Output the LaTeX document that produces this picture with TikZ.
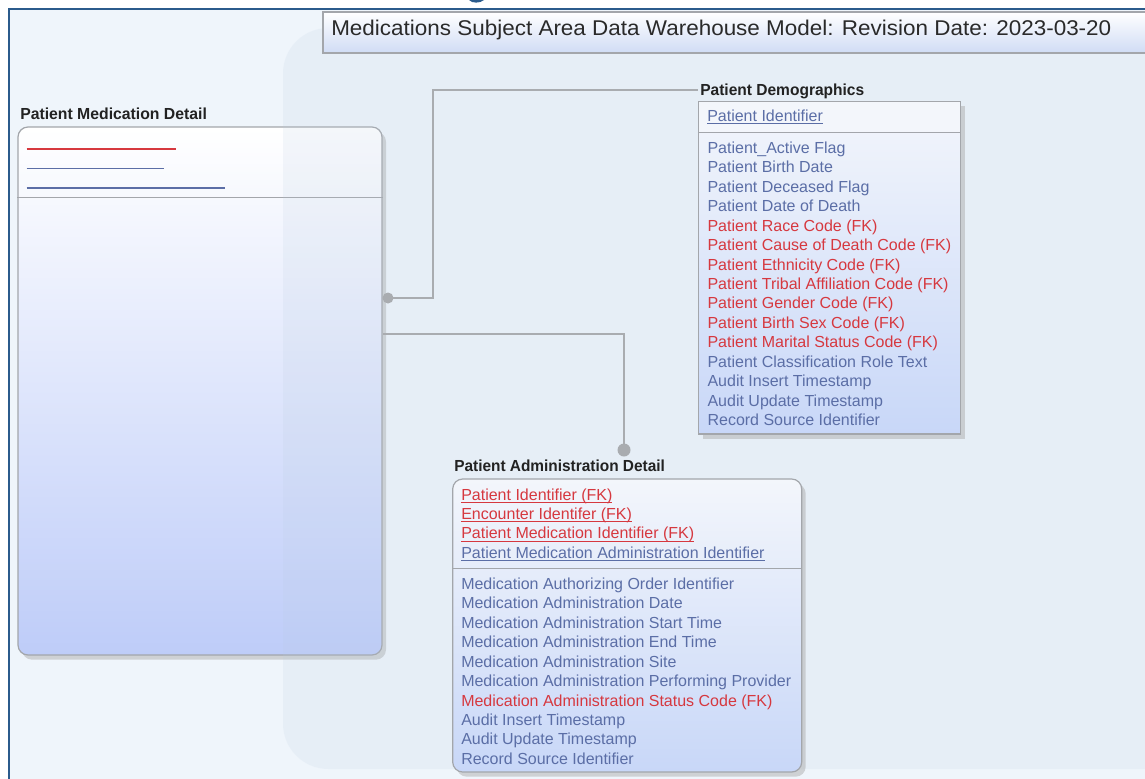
\documentclass[tikz,border=0pt]{standalone}
\usepackage{fontspec}
\usepackage{graphicx}
\setmainfont{Liberation Sans}
\usetikzlibrary{fit,shadows}
\definecolor{bgc}{HTML}{EFF5FB}
\definecolor{regc}{HTML}{B9CCE0}
\definecolor{framec}{HTML}{2B5B8C}
\definecolor{itemblue}{HTML}{5B6EA6}
\definecolor{itemred}{HTML}{D6383F}
\definecolor{hdrc}{HTML}{222222}
\definecolor{boxline}{HTML}{A3A6AB}
\definecolor{boxbot}{HTML}{C8D7F8}
\definecolor{boxtop}{HTML}{F3F6FB}
\definecolor{connc}{HTML}{A9ACB0}
\definecolor{titlebot}{HTML}{D0DCF5}
\definecolor{titletxt}{HTML}{2A2A2A}
\tikzset{
  item/.style={anchor=base west, inner sep=0pt, font=\fontsize{12}{14}\selectfont},
  hdr/.style={anchor=base west, inner sep=0pt, text=hdrc, font=\fontsize{12}{14}\selectfont\bfseries},
  entbox/.style={inner sep=0pt, draw=boxline, line width=0.9pt, top color=boxtop, bottom color=boxbot,
    drop shadow={shadow xshift=3pt, shadow yshift=-3.5pt, fill=gray!70, opacity=0.45}},
  sepline/.style={draw=boxline, line width=0.9pt},
  conn/.style={draw=connc, line width=1.5pt},
  keyline/.style={line width=1pt},
}
\newcommand\ulk[1]{\underline{\smash{#1}}}
\newcommand\hdrtext[2]{\resizebox{#1}{\height}{#2}}
\begin{document}
\begin{tikzpicture}[x=0.75pt,y=-0.75pt]
\useasboundingbox (0,0) rectangle (1145,778);
\clip (0,0) rectangle (1145,778);
% background and frame
\fill[white] (0,0) rectangle (1145,778);
\fill[bgc] (9,9) rectangle (1160,790);
\draw[framec, line width=1.6pt] (9,790) -- (9,9) -- (1160,9);
\fill[framec] (469,0) .. controls (472,3.5) and (480,3.5) .. (484,0) -- cycle;

% Patient Medication Detail
\node[hdr] (pmdh) at (20,119) {\hdrtext{140pt}{Patient Medication Detail}};
\node[entbox, rounded corners=7.5pt, top color=white, bottom color=boxbot!95!blue, fit={(18,127)(382,655)}] (pmd) {};
\draw[sepline] (pmd.west |- 0,197.5) -- (pmd.east |- 0,197.5);
\draw[keyline, itemred] (26.5,149) -- (175.5,149);
\draw[keyline, itemblue] (26.5,168.7) -- (163.5,168.7);
\draw[keyline, itemblue] (26.5,188) -- (224.5,188);

% shaded region overlay
\fill[regc, opacity=0.15, rounded corners=34pt] (283,28) rectangle (1200,769);

% title box
\node[inner sep=0pt, draw=boxline, line width=0.9pt, top color=white, bottom color=titlebot, fit={(323,12)(1170,53)}] (titlebox) {};
\node[anchor=base west, inner sep=0pt, text=titletxt] (titletext) at (331,36)
  {\resizebox{585pt}{\height}{\fontsize{16}{18}\selectfont Medications Subject Area Data Warehouse Model: Revision Date: 2023-03-20}};

% Patient Demographics
\node[hdr] (pdh) at (700,95) {\hdrtext{123pt}{Patient Demographics}};
\node[entbox, fit={(698.5,101.5)(960.5,434)}] (pd) {};
\fill[boxtop] (699,102) rectangle (960,132);
\draw[sepline] (pd.west |- 0,132.3) -- (pd.east |- 0,132.3);
\node[item, text=itemblue] (pdk) at (707,121.7) {\ulk{Patient Identifier}};
\foreach \c/\t [count=\i from 0] in {
  itemblue/Patient\_Active Flag,
  itemblue/Patient Birth Date,
  itemblue/Patient Deceased Flag,
  itemblue/Patient Date of Death,
  itemred/Patient Race Code (FK),
  itemred/Patient Cause of Death Code (FK),
  itemred/Patient Ethnicity Code (FK),
  itemred/Patient Tribal Affiliation Code (FK),
  itemred/Patient Gender Code (FK),
  itemred/Patient Birth Sex Code (FK),
  itemred/Patient Marital Status Code (FK),
  itemblue/Patient Classification Role Text,
  itemblue/Audit Insert Timestamp,
  itemblue/Audit Update Timestamp,
  itemblue/Record Source Identifier}
  \node[item, text=\c] (pd\i) at (707.3,{153.3+19.45*\i}) {\t};

% Patient Administration Detail
\node[hdr] (padh) at (454,471) {\hdrtext{158pt}{Patient Administration Detail}};
\node[entbox, rounded corners=7.5pt, fit={(452.7,479)(801.7,772)}] (pad) {};
\draw[sepline] (pad.west |- 0,568.3) -- (pad.east |- 0,568.3);
\foreach \c/\t [count=\i from 0] in {
  itemred/Patient Identifier (FK),
  itemred/Encounter Identifer (FK),
  itemred/Patient Medication Identifier (FK),
  itemblue/Patient Medication Administration Identifier}
  \node[item, text=\c] (padk\i) at (461,{500+19.45*\i}) {\ulk{\t}};
\foreach \c/\t [count=\i from 0] in {
  itemblue/Medication Authorizing Order Identifier,
  itemblue/Medication Administration Date,
  itemblue/Medication Administration Start Time,
  itemblue/Medication Administration End Time,
  itemblue/Medication Administration Site,
  itemblue/Medication Administration Performing Provider,
  itemred/Medication Administration Status Code (FK),
  itemblue/Audit Insert Timestamp,
  itemblue/Audit Update Timestamp,
  itemblue/Record Source Identifier}
  \node[item, text=\c] (pad\i) at (461,{589.3+19.45*\i}) {\t};

% connectors
\coordinate (c1a) at (388,298);
\coordinate (c1b) at (698,90);
\coordinate (c2a) at (383,334);
\coordinate (c2b) at (624,450);
\draw[conn] (c1a) -- ++(45,0) |- (c1b);
\draw[conn] (c2a) -| (c2b);
\fill[connc] (c1a) circle[radius=5.5];
\fill[connc] (c2b) circle[radius=6.5];
\end{tikzpicture}
\end{document}
